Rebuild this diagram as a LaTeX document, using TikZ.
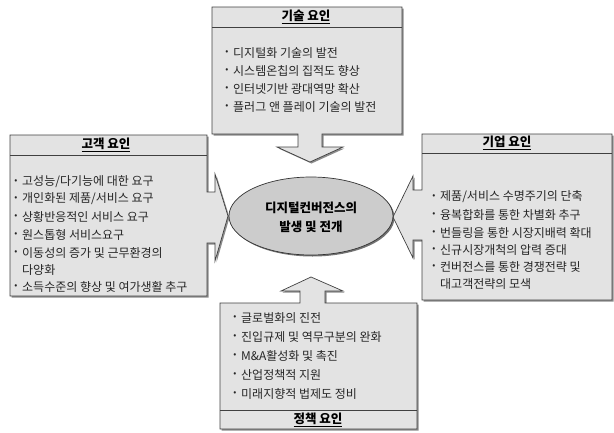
\documentclass[tikz,border=0pt]{standalone}
\usepackage{fontspec}
\setmainfont{Noto Sans CJK KR}
\usetikzlibrary{shapes.geometric}
\begin{document}
\begin{tikzpicture}[x=1pt,y=-1pt,
  panel/.style={fill=black!11, draw=black!75, line width=0.7pt, line join=miter},
  shadowfill/.style={fill=black!45, draw=none},
  sep/.style={draw=black!75, line width=0.7pt},
  item/.style={anchor=west, inner sep=0pt, font=\fontsize{12}{14}\selectfont, text=black!85},
  bul/.style={anchor=center, inner sep=0pt, font=\fontsize{9}{10}\selectfont, text=black!85},
  ttl/.style={anchor=center, inner sep=0pt, font=\fontsize{12.5}{14}\selectfont\bfseries},
  core/.style={ellipse, fill=black!20, draw=black!80, line width=0.7pt}]
\useasboundingbox (0,0) rectangle (614,432);

% ---------- shadows ----------
\begin{scope}[shift={(1.5,1.5)}]
\fill[shadowfill] (212,7) -- (402,7) -- (402,134) -- (322,134) -- (322,147) -- (343,147) -- (310,162) -- (277,147) -- (298,147) -- (298,134) -- (212,134) -- cycle;
\fill[shadowfill] (10,135) -- (207,135) -- (207,192) -- (215,192) -- (215,174) -- (228,216) -- (215,261) -- (215,243) -- (207,243) -- (207,296) -- (10,296) -- cycle;
\fill[shadowfill] (422,134) -- (612,134) -- (612,300) -- (422,300) -- (422,240) -- (413,240) -- (413,258) -- (393,217) -- (413,176) -- (413,190) -- (422,190) -- cycle;
\fill[shadowfill] (220,303) -- (300,303) -- (300,291) -- (281,291) -- (311,277) -- (343,291) -- (325,291) -- (325,303) -- (417,303) -- (417,429) -- (220,429) -- cycle;
\fill[black!55] (311,216) ellipse [x radius=82, y radius=39];
\end{scope}

% ---------- panels ----------
\path[panel] (212,7) -- (402,7) -- (402,134) -- (322,134) -- (322,147) -- (343,147) -- (310,162) -- (277,147) -- (298,147) -- (298,134) -- (212,134) -- cycle;
\path[panel] (10,135) -- (207,135) -- (207,192) -- (215,192) -- (215,174) -- (228,216) -- (215,261) -- (215,243) -- (207,243) -- (207,296) -- (10,296) -- cycle;
\path[panel] (422,134) -- (612,134) -- (612,300) -- (422,300) -- (422,240) -- (413,240) -- (413,258) -- (393,217) -- (413,176) -- (413,190) -- (422,190) -- cycle;
\path[panel] (220,303) -- (300,303) -- (300,291) -- (281,291) -- (311,277) -- (343,291) -- (325,291) -- (325,303) -- (417,303) -- (417,429) -- (220,429) -- cycle;

% separators
\draw[sep] (212,27) -- (402,27);
\draw[sep] (10,155) -- (207,155);
\draw[sep] (422,153) -- (612,153);
\draw[sep] (220,410) -- (417,410);

% ---------- centre ----------
\node[core, minimum width=164pt, minimum height=78pt, inner sep=0pt] (center) at (311,216) {};
\node[ttl, align=center, font=\fontsize{12.5}{19}\selectfont\bfseries] (centertext) at (311,217) {디지털컨버전스의\\발생 및 전개};

% ---------- top: 기술 요인 ----------
\node[ttl] (ttop) at (306,17) {\underline{기술 요인}};
\node[bul] (bt1) at (227,53) {•}; \node[item] (t1) at (233,53) {디지털화 기술의 발전};
\node[bul] (bt2) at (227,71) {•}; \node[item] (t2) at (233,71) {시스템온칩의 집적도 향상};
\node[bul] (bt3) at (227,89) {•}; \node[item] (t3) at (233,89) {인터넷기반 광대역망 확산};
\node[bul] (bt4) at (227,107) {•}; \node[item] (t4) at (233,107) {플러그 앤 플레이 기술의 발전};

% ---------- left: 고객 요인 ----------
\node[ttl] (tleft) at (106,145) {\underline{고객 요인}};
\node[bul] (bl1) at (16,182) {•}; \node[item] (l1) at (22,182) {고성능/다기능에 대한 요구};
\node[bul] (bl2) at (16,199) {•}; \node[item] (l2) at (22,199) {개인화된 제품/서비스 요구};
\node[bul] (bl3) at (16,217) {•}; \node[item] (l3) at (22,217) {상황반응적인 서비스 요구};
\node[bul] (bl4) at (16,235) {•}; \node[item] (l4) at (22,235) {원스톱형 서비스요구};
\node[bul] (bl5) at (16,253) {•}; \node[item] (l5) at (22,253) {이동성의 증가 및 근무환경의};
\node[item] (l5b) at (22,270) {다양화};
\node[bul] (bl6) at (16,287) {•}; \node[item] (l6) at (22,287) {소득수준의 향상 및 여가생활 추구};

% ---------- right: 기업 요인 ----------
\node[ttl] (tright) at (507,143) {\underline{기업 요인}};
\node[bul] (br1) at (434,197) {•}; \node[item] (r1) at (440,197) {제품/서비스 수명주기의 단축};
\node[bul] (br2) at (434,215) {•}; \node[item] (r2) at (440,215) {융복합화를 통한 차별화 추구};
\node[bul] (br3) at (434,233) {•}; \node[item] (r3) at (440,233) {번들링을 통한 시장지배력 확대};
\node[bul] (br4) at (434,250) {•}; \node[item] (r4) at (440,250) {신규시장개척의 압력 증대};
\node[bul] (br5) at (434,267) {•}; \node[item] (r5) at (440,267) {컨버전스를 통한 경쟁전략 및};
\node[item] (r5b) at (440,284) {대고객전략의 모색};

% ---------- bottom: 정책 요인 ----------
\node[bul] (bb1) at (235,318) {•}; \node[item] (b1) at (241,318) {글로벌화의 진전};
\node[bul] (bb2) at (235,337) {•}; \node[item] (b2) at (241,337) {진입규제 및 역무구분의 완화};
\node[bul] (bb3) at (235,356) {•}; \node[item] (b3) at (241,356) {M\&A활성화 및 촉진};
\node[bul] (bb4) at (235,375) {•}; \node[item] (b4) at (241,375) {산업정책적 지원};
\node[bul] (bb5) at (235,394) {•}; \node[item] (b5) at (241,394) {미래지향적 법제도 정비};
\node[ttl] (tbottom) at (318,420) {\underline{정책 요인}};
\end{tikzpicture}
\end{document}
